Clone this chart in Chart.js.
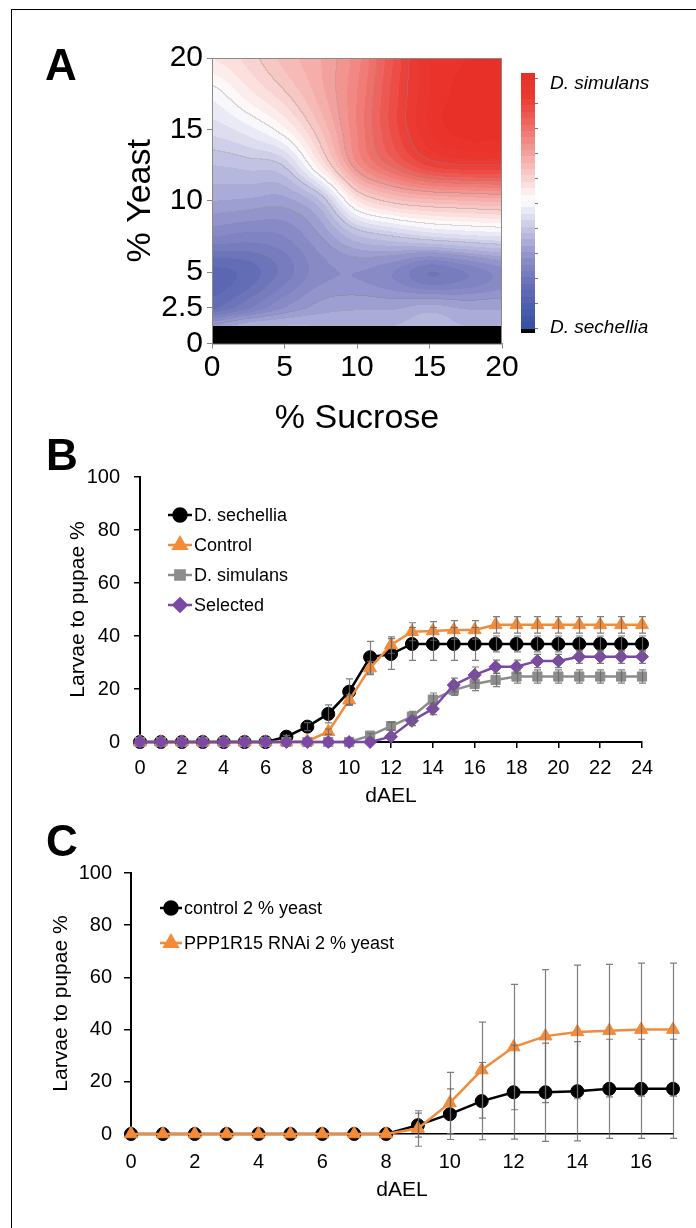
<!DOCTYPE html>
<html>
<head>
<meta charset="utf-8">
<script src="https://cdn.jsdelivr.net/npm/chart.js@4.4.1/dist/chart.umd.min.js"></script>
<style>
  html, body { margin: 0; padding: 0; background: #fff; }
  #page { position: relative; width: 696px; height: 1228px; overflow: hidden; background: #fff; }
  #frame { position: absolute; left: 11px; top: 9px; width: 700px; height: 1240px; border-left: 1.5px solid #000; border-top: 1.5px solid #000; }
  canvas { position: absolute; left: 0; }
</style>
</head>
<body>
<div id="page">
  <div id="frame"></div>
  <canvas id="chartA" width="696" height="450" style="top:0px"></canvas>
  <canvas id="chartB" width="696" height="390" style="top:430px"></canvas>
  <canvas id="chartC" width="696" height="408" style="top:820px"></canvas>
</div>
<script>
'use strict';

// ---- Panel A : preference map, -1 = D. sechellia, +1 = D. simulans
var sucroseLevels = [0, 2.5, 5, 7.5, 10, 12.5, 15, 17.5, 20];
var yeastLevels = [1.25, 2.5, 5, 7.5, 10, 12.5, 15, 17.5, 20];
// one row per yeast level, one column per sucrose level
var preference = [
  [-0.40, -0.32, -0.30, -0.30, -0.30, -0.30, -0.28, -0.30, -0.30],
  [-0.66, -0.56, -0.45, -0.38, -0.36, -0.36, -0.33, -0.36, -0.36],
  [-0.72, -0.68, -0.58, -0.47, -0.45, -0.50, -0.60, -0.55, -0.48],
  [-0.50, -0.52, -0.50, -0.40, -0.26, -0.20, -0.15, -0.12, -0.10],
  [-0.35, -0.36, -0.37, -0.25, 0.10, 0.23, 0.28, 0.30, 0.32],
  [-0.25, -0.23, -0.19, 0.10, 0.44, 0.62, 0.76, 0.80, 0.80],
  [-0.13, -0.07, 0.04, 0.25, 0.50, 0.72, 0.90, 0.98, 0.98],
  [-0.03, 0.08, 0.19, 0.33, 0.50, 0.72, 0.90, 0.97, 0.97],
  [0.10, 0.17, 0.27, 0.35, 0.48, 0.70, 0.90, 0.95, 0.95]
];
var noDataYeast = 1.25;
var sucroseTicks = [0, 5, 10, 15, 20];
var yeastTicks = [0, 2.5, 5, 10, 15, 20];
var mapLabels = ['D. simulans', 'D. sechellia'];

// ---- Panel B
var daysB = [0, 1, 2, 3, 4, 5, 6, 7, 8, 9, 10, 11, 12, 13, 14, 15, 16, 17, 18, 19, 20, 21, 22, 23, 24];
var namesB = ['D. sechellia', 'Control', 'D. simulans', 'Selected'];
var sechellia = [0, 0, 0, 0, 0, 0, 0, 2, 5.8, 10.6, 19, 32, 33.2, 37, 37, 37, 37, 37, 37, 37, 37, 37, 37, 37, 37];
var sechelliaErr = [0, 0, 0, 0, 0, 0, 0, 0.5, 1.5, 3.4, 4.8, 6, 5.8, 6.2, 6.2, 6.2, 6.2, 3, 3, 3, 3, 3, 3, 3, 3];
var control = [0, 0, 0, 0, 0, 0, 0, 0, 0.3, 3.9, 15.8, 27.9, 36.6, 41.6, 41.9, 42.3, 42.3, 44.2, 44.2, 44.2, 44.2, 44.2, 44.2, 44.2, 44.2];
var controlErr = [0, 0, 0, 0, 0, 0, 0, 0, 0, 1, 2, 2.5, 3.1, 3.4, 3.5, 3.5, 3.5, 3.1, 3.1, 3.1, 3.1, 3.1, 3.1, 3.1, 3.1];
var simulans = [0, 0, 0, 0, 0, 0, 0, 0, 0, 0, 0, 2.4, 6, 9.6, 16, 19.6, 21.9, 23.4, 24.7, 24.7, 24.7, 24.7, 24.7, 24.7, 24.7];
var simulansErr = [0, 0, 0, 0, 0, 0, 0, 0, 0, 0, 0, 0.8, 1.5, 2, 2.5, 2, 2.5, 2.5, 2.5, 2.5, 2.5, 2.5, 2.5, 2.5, 2.5];
var selected = [0, 0, 0, 0, 0, 0, 0, 0, 0, 0, 0, 0, 2, 8, 12.5, 21.5, 25.3, 28.4, 28.4, 30.6, 30.6, 32.2, 32.2, 32.2, 32.2];
var selectedErr = [0, 0, 0, 0, 0, 0, 0, 0, 0, 0, 0, 0, 0.8, 1.8, 2.2, 2.6, 3, 2.5, 2.5, 2.5, 2.5, 2.5, 2.5, 2.5, 2.5];
var ticksB = [0, 2, 4, 6, 8, 10, 12, 14, 16, 18, 20, 22, 24];

// ---- Panel C
var daysC = [0, 1, 2, 3, 4, 5, 6, 7, 8, 9, 10, 11, 12, 13, 14, 15, 16, 17];
var namesC = ['control 2 % yeast', 'PPP1R15 RNAi 2 % yeast'];
var control2 = [0, 0, 0, 0, 0, 0, 0, 0, 0, 3.4, 7.6, 12.6, 16, 16, 16.4, 17.3, 17.3, 17.3];
var control2Err = [0, 0, 0, 0, 0, 0, 0, 0, 0, 4.6, 9.7, 14.8, 18, 18.8, 19, 19, 19, 19];
var rnai2 = [0, 0, 0, 0, 0, 0, 0, 0, 0, 2.1, 11.9, 24.5, 33.3, 37.5, 39.1, 39.6, 40, 40];
var rnai2Err = [0, 0, 0, 0, 0, 0, 0, 0, 0, 6.8, 11.7, 18.4, 24, 25.5, 25.6, 25.4, 25.5, 25.5];
var ticksC = [0, 2, 4, 6, 8, 10, 12, 14, 16];

Chart.defaults.font.family = "'Liberation Sans', Arial, sans-serif";
Chart.defaults.color = '#000';

function points(days, vals) {
  return days.map(function (d, i) { return { x: d, y: vals[i] }; });
}
function fixedTicks(list) {
  return function (scale) { scale.ticks = list.map(function (v) { return { value: v }; }); };
}
function clamp(v, lo, hi) { return v < lo ? lo : (v > hi ? hi : v); }

// ---------- heat map helpers
function levelIndex(levels, v) {
  if (v <= levels[0]) return 0;
  for (var i = 0; i < levels.length - 1; i++) {
    if (v <= levels[i + 1]) return i + (v - levels[i]) / (levels[i + 1] - levels[i]);
  }
  return levels.length - 1;
}
function cubic(p0, p1, p2, p3, t) {
  return p1 + 0.5 * t * (p2 - p0 + t * (2 * p0 - 5 * p1 + 4 * p2 - p3 + t * (3 * (p1 - p2) + p3 - p0)));
}
function sampleGrid(fx, fy) {
  var ny = preference.length, nx = preference[0].length;
  var ix = Math.min(Math.floor(fx), nx - 2), iy = Math.min(Math.floor(fy), ny - 2);
  var tx = fx - ix, ty = fy - iy;
  var rows = [];
  for (var j = -1; j <= 2; j++) {
    var r = preference[clamp(iy + j, 0, ny - 1)];
    rows.push(cubic(r[clamp(ix - 1, 0, nx - 1)], r[ix], r[ix + 1], r[clamp(ix + 2, 0, nx - 1)], tx));
  }
  return clamp(cubic(rows[0], rows[1], rows[2], rows[3], ty), -1, 1);
}
var stops = [
  [-1, [55, 80, 165]], [-0.7, [95, 105, 180]], [-0.45, [140, 142, 200]], [-0.2, [200, 200, 230]],
  [0, [255, 255, 255]], [0.2, [248, 205, 203]], [0.5, [240, 130, 125]], [0.8, [234, 60, 52]], [1, [232, 45, 38]]
];
function prefColour(v) {
  v = (Math.floor((v + 1) / 0.05) + 0.5) * 0.05 - 1;
  for (var i = 0; i < stops.length - 1; i++) {
    if (v <= stops[i + 1][0]) {
      var t = (v - stops[i][0]) / (stops[i + 1][0] - stops[i][0]);
      var a = stops[i][1], b = stops[i + 1][1];
      return [a[0] + (b[0] - a[0]) * t, a[1] + (b[1] - a[1]) * t, a[2] + (b[2] - a[2]) * t];
    }
  }
  return stops[stops.length - 1][1];
}

var heatmapPlugin = {
  id: 'heatmap',
  beforeDatasetsDraw: function (chart) {
    var a = chart.chartArea, xs = chart.scales.x, ys = chart.scales.y, ctx = chart.ctx;
    var x0 = Math.round(a.left), y0 = Math.round(a.top);
    var w = Math.round(a.right) - x0, h = Math.round(a.bottom) - y0;
    var vals = new Float32Array(w * h);
    for (var py = 0; py < h; py++) {
      var yv = ys.getValueForPixel(y0 + py + 0.5);
      var fy = levelIndex(yeastLevels, yv);
      for (var px = 0; px < w; px++) {
        var s = xs.getValueForPixel(x0 + px + 0.5);
        vals[py * w + px] = yv < noDataYeast ? NaN : sampleGrid(levelIndex(sucroseLevels, s), fy);
      }
    }
    var img = ctx.createImageData(w, h);
    for (var k = 0; k < w * h; k++) {
      var v = vals[k], c;
      if (isNaN(v)) { c = [0, 0, 0]; }
      else {
        c = prefColour(v).slice();
        var lv = Math.floor((v + 1) / 0.2);
        var right = (k % w) < w - 1 ? vals[k + 1] : v;
        var below = k + w < w * h ? vals[k + w] : v;
        if ((!isNaN(right) && Math.floor((right + 1) / 0.2) !== lv) ||
            (!isNaN(below) && Math.floor((below + 1) / 0.2) !== lv)) {
          c = [c[0] * 0.7 + 40, c[1] * 0.7 + 40, c[2] * 0.7 + 40];
        }
      }
      img.data[k * 4] = c[0]; img.data[k * 4 + 1] = c[1]; img.data[k * 4 + 2] = c[2]; img.data[k * 4 + 3] = 255;
    }
    ctx.putImageData(img, x0, y0);
  },
  afterDatasetsDraw: function (chart) {
    var a = chart.chartArea, ctx = chart.ctx;
    ctx.save();
    ctx.strokeStyle = '#8a8a8a';
    ctx.lineWidth = 1;
    ctx.strokeRect(a.left + 0.5, a.top + 0.5, a.right - a.left - 1, a.bottom - a.top);
    // colour bar
    var bx = a.right + 19, bw = 14, bt = a.top + 15, bb = a.top + 271;
    for (var y = bt; y < bb; y++) {
      var c = prefColour(1 - 2 * (y - bt) / (bb - bt - 1));
      ctx.fillStyle = 'rgb(' + Math.round(c[0]) + ',' + Math.round(c[1]) + ',' + Math.round(c[2]) + ')';
      ctx.fillRect(bx, y, bw, 1);
    }
    ctx.fillStyle = '#000';
    ctx.fillRect(bx, bb, bw, 4);
    ctx.strokeStyle = '#777';
    for (var t = 0; t <= 10; t++) {
      var ty = bt + 5 + t * 25 + 0.5;
      ctx.beginPath(); ctx.moveTo(bx + bw, ty); ctx.lineTo(bx + bw + 3, ty); ctx.stroke();
    }
    ctx.fillStyle = '#000';
    ctx.font = "italic 19px 'Liberation Sans', Arial, sans-serif";
    ctx.textBaseline = 'alphabetic';
    ctx.fillText(mapLabels[0], bx + 29, a.top + 31);
    ctx.fillText(mapLabels[1], bx + 29, a.top + 275);
    ctx.restore();
  }
};

var letterPlugin = {
  id: 'panelLetter',
  afterDraw: function (chart, args, opts) {
    var ctx = chart.ctx;
    ctx.save();
    ctx.fillStyle = '#000';
    ctx.font = "bold 44px 'Liberation Sans', Arial, sans-serif";
    ctx.textBaseline = 'alphabetic';
    ctx.fillText(opts.text, opts.x, opts.y);
    ctx.restore();
  }
};

var errorBarPlugin = {
  id: 'errorBars',
  afterDatasetsDraw: function (chart, args, opts) {
    var ctx = chart.ctx, ys = chart.scales.y;
    ctx.save();
    ctx.strokeStyle = opts.color || 'rgba(105,105,105,0.85)';
    ctx.lineWidth = 1.2;
    chart.data.datasets.forEach(function (ds, i) {
      if (!ds.errors) return;
      var meta = chart.getDatasetMeta(i);
      meta.data.forEach(function (el, j) {
        var e = ds.errors[j];
        if (!e) return;
        var v = ds.data[j].y;
        var top = ys.getPixelForValue(v + e), bot = ys.getPixelForValue(v - e);
        var x = Math.round(el.x) + 0.5, cap = opts.cap || 3.5;
        ctx.beginPath();
        ctx.moveTo(x, top); ctx.lineTo(x, bot);
        ctx.moveTo(x - cap, top); ctx.lineTo(x + cap, top);
        ctx.moveTo(x - cap, bot); ctx.lineTo(x + cap, bot);
        ctx.stroke();
      });
    });
    ctx.restore();
  }
};

var legendPlugin = {
  id: 'insideLegend',
  afterDraw: function (chart, args, opts) {
    var ctx = chart.ctx, a = chart.chartArea;
    ctx.save();
    chart.data.datasets.forEach(function (ds, i) {
      var y = a.top + opts.top + i * opts.gap;
      var x1 = a.left + opts.left, x2 = x1 + opts.length;
      ctx.strokeStyle = ds.borderColor;
      ctx.lineWidth = ds.borderWidth;
      ctx.beginPath(); ctx.moveTo(x1, y); ctx.lineTo(x2, y); ctx.stroke();
      ctx.fillStyle = ds.pointBackgroundColor;
      ctx.strokeStyle = ds.pointBorderColor;
      Chart.helpers.drawPoint(ctx, { pointStyle: ds.pointStyle, radius: ds.pointRadius, rotation: 0, borderWidth: 1 }, (x1 + x2) / 2, y);
      ctx.fillStyle = '#000';
      ctx.font = "18px 'Liberation Sans', Arial, sans-serif";
      ctx.textBaseline = 'middle';
      ctx.fillText(ds.label, x2 + 2, y + 1);
    });
    ctx.restore();
  }
};

function lineSet(label, days, vals, errs, colour, style, radius, order) {
  return {
    label: label,
    data: points(days, vals),
    errors: errs,
    borderColor: colour,
    backgroundColor: colour,
    pointBackgroundColor: colour,
    pointBorderColor: colour,
    borderWidth: 2.5,
    pointStyle: style,
    pointRadius: radius,
    pointBorderWidth: 1,
    tension: 0,
    clip: false,
    order: order
  };
}

// ---------- Panel A
new Chart(document.getElementById('chartA'), {
  type: 'scatter',
  data: {
    datasets: [{
      label: 'grid',
      data: sucroseLevels.map(function (s, i) { return { x: s, y: yeastLevels[i] }; }),
      pointRadius: 0
    }]
  },
  options: {
    responsive: false, animation: false, devicePixelRatio: 1,
    layout: { padding: { left: 116, right: 194, top: 58, bottom: 7 } },
    plugins: { legend: { display: false }, tooltip: { enabled: false }, panelLetter: { text: 'A', x: 45, y: 80 } },
    scales: {
      x: {
        type: 'linear', min: 0, max: 20,
        afterBuildTicks: fixedTicks(sucroseTicks),
        afterFit: function (s) { s.height = 99.4; },
        ticks: { font: { size: 30 }, padding: 1, autoSkip: false, maxRotation: 0 },
        grid: { drawOnChartArea: false, tickLength: 5, color: '#888' },
        border: { color: '#888', width: 1 },
        title: { display: true, text: '% Sucrose', font: { size: 34 } }
      },
      y: {
        type: 'linear', min: 0, max: 20,
        afterBuildTicks: fixedTicks(yeastTicks),
        afterFit: function (s) { s.width = 96; },
        ticks: { font: { size: 30 }, padding: 4, autoSkip: false },
        grid: { drawOnChartArea: false, tickLength: 5, color: '#888' },
        border: { color: '#888', width: 1 },
        title: { display: true, text: '% Yeast', font: { size: 34 } }
      }
    }
  },
  plugins: [heatmapPlugin, letterPlugin]
});

// ---------- Panel B
new Chart(document.getElementById('chartB'), {
  type: 'line',
  data: {
    datasets: [
      lineSet(namesB[0], daysB, sechellia, sechelliaErr, '#000000', 'circle', 6.5, 4),
      lineSet(namesB[1], daysB, control, controlErr, '#f28b3a', 'triangle', 7.5, 3),
      lineSet(namesB[2], daysB, simulans, simulansErr, '#8c8c8c', 'rect', 6.5, 2),
      lineSet(namesB[3], daysB, selected, selectedErr, '#7b48a5', 'rectRot', 6.5, 1)
    ]
  },
  options: {
    responsive: false, animation: false, devicePixelRatio: 1,
    layout: { padding: { left: 62, right: 54, top: 47, bottom: 7 } },
    plugins: {
      legend: { display: false }, tooltip: { enabled: false },
      panelLetter: { text: 'B', x: 46, y: 40 },
      insideLegend: { left: 28, length: 24, top: 38, gap: 30 },
      errorBars: { cap: 3.5 }
    },
    scales: {
      x: {
        type: 'linear', min: 0, max: 24,
        afterBuildTicks: fixedTicks(ticksB),
        afterFit: function (s) { s.height = 71; },
        ticks: { font: { size: 20 }, padding: 8, autoSkip: false, maxRotation: 0 },
        grid: { drawOnChartArea: false, tickLength: 6, color: '#000', lineWidth: 1.5 },
        border: { color: '#000', width: 2 },
        title: { display: true, text: 'dAEL', font: { size: 21 } }
      },
      y: {
        min: 0, max: 100,
        ticks: { stepSize: 20, font: { size: 20 }, padding: 14 },
        afterFit: function (s) { s.width = 78; },
        grid: { drawOnChartArea: false, tickLength: 6, color: '#000', lineWidth: 1.5 },
        border: { color: '#000', width: 2 },
        title: { display: true, text: 'Larvae to pupae %', font: { size: 21 } }
      }
    }
  },
  plugins: [errorBarPlugin, legendPlugin, letterPlugin]
});

// ---------- Panel C
new Chart(document.getElementById('chartC'), {
  type: 'line',
  data: {
    datasets: [
      lineSet(namesC[0], daysC, control2, control2Err, '#000000', 'circle', 6.5, 2),
      lineSet(namesC[1], daysC, rnai2, rnai2Err, '#f28b3a', 'triangle', 7.5, 1)
    ]
  },
  options: {
    responsive: false, animation: false, devicePixelRatio: 1,
    layout: { padding: { left: 45, right: 23, top: 53, bottom: 21 } },
    plugins: {
      legend: { display: false }, tooltip: { enabled: false },
      panelLetter: { text: 'C', x: 46, y: 36 },
      insideLegend: { left: 29, length: 22, top: 35, gap: 35 },
      errorBars: { cap: 3.5 }
    },
    scales: {
      x: {
        type: 'linear', min: 0, max: 17,
        afterBuildTicks: fixedTicks(ticksC),
        afterFit: function (s) { s.height = 73; },
        ticks: { font: { size: 20 }, padding: 16, autoSkip: false, maxRotation: 0 },
        grid: { drawOnChartArea: false, drawTicks: false },
        border: { color: '#000', width: 1.5 },
        title: { display: true, text: 'dAEL', font: { size: 21 } }
      },
      y: {
        min: 0, max: 100,
        ticks: { stepSize: 20, font: { size: 20 }, padding: 12 },
        afterFit: function (s) { s.width = 86; },
        grid: { drawOnChartArea: false, tickLength: 7, color: '#000', lineWidth: 1.5 },
        border: { color: '#000', width: 2 },
        title: { display: true, text: 'Larvae to pupae %', font: { size: 21 } }
      }
    }
  },
  plugins: [errorBarPlugin, legendPlugin, letterPlugin]
});
</script>
</body>
</html>
